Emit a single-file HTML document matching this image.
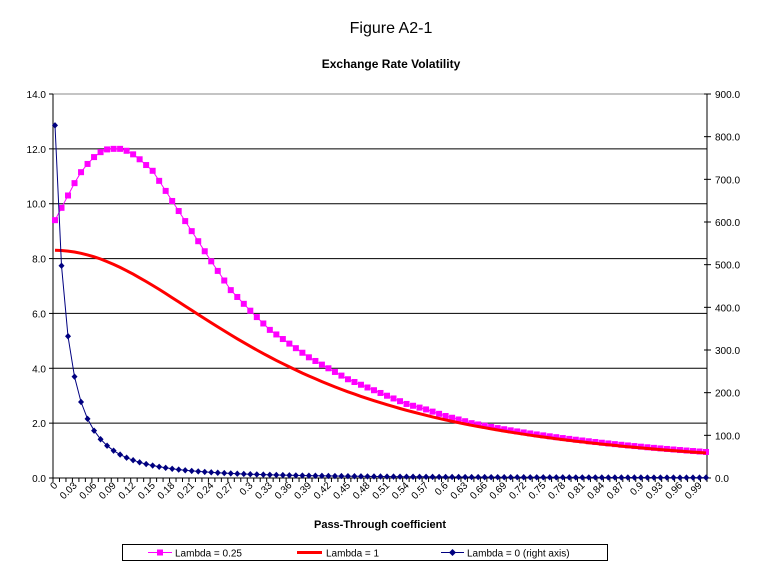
<!DOCTYPE html>
<html><head><meta charset="utf-8">
<style>
html,body{margin:0;padding:0;background:#fff;}
svg{display:block;font-family:"Liberation Sans",Arial,sans-serif;}
</style></head>
<body>
<svg id="s" width="782" height="574" viewBox="0 0 782 574" xmlns="http://www.w3.org/2000/svg">
<text x="391" y="33" font-size="16" text-anchor="middle">Figure A2-1</text>
<text x="391" y="68" font-size="12" font-weight="bold" text-anchor="middle">Exchange Rate Volatility</text>
<text x="380" y="528" font-size="11" font-weight="bold" text-anchor="middle">Pass-Through coefficient</text>
<g id="g"></g>
<rect x="122.5" y="544.5" width="485" height="16" fill="#fff" stroke="#000" stroke-width="1"/>
<line x1="148" y1="552.5" x2="172" y2="552.5" stroke="#ff00ff" stroke-width="1"/>
<rect x="157" y="549.5" width="6" height="6" fill="#ff00ff"/>
<text x="175" y="556.5" font-size="10">Lambda = 0.25</text>
<line x1="297" y1="552.5" x2="322" y2="552.5" stroke="#ff0000" stroke-width="3"/>
<text x="326" y="556.5" font-size="10">Lambda = 1</text>
<line x1="441" y1="552.5" x2="464" y2="552.5" stroke="#000080" stroke-width="1"/>
<polygon points="452.5,549 456,552.5 452.5,556 449,552.5" fill="#000080"/>
<text x="467" y="556.5" font-size="10">Lambda = 0 (right axis)</text>
</svg>
<script>
var g=document.getElementById('g'),h='';
var L=53,R=707,T=94,B=478;
function yl(v){return B-(v/14)*(B-T);}
function yr(v){return B-(v/900)*(B-T);}
function px(i){return 55+i*6.51;}
for(var k=1;k<=7;k++){var y=yl(k*2);h+='<line x1="'+L+'" x2="'+R+'" y1="'+y+'" y2="'+y+'" stroke="'+(k==7?'#888':'#000')+'" stroke-width="1"/>';}
h+='<line x1="'+L+'" x2="'+L+'" y1="'+T+'" y2="'+B+'" stroke="#000"/>';
h+='<line x1="'+R+'" x2="'+R+'" y1="'+T+'" y2="'+B+'" stroke="#000"/>';
h+='<line x1="'+L+'" x2="'+R+'" y1="'+B+'" y2="'+B+'" stroke="#000"/>';
for(var k=0;k<=7;k++){var y=yl(k*2);h+='<line x1="'+(L-4)+'" x2="'+L+'" y1="'+y+'" y2="'+y+'" stroke="#000"/>';
h+='<text x="'+(L-7)+'" y="'+(y+4)+'" font-size="10" text-anchor="end">'+(k*2).toFixed(1)+'</text>';}
for(var k=0;k<=9;k++){var y=yr(k*100);h+='<line x1="'+(R-3)+'" x2="'+(R+4)+'" y1="'+y+'" y2="'+y+'" stroke="#000"/>';
h+='<text x="'+(R+8)+'" y="'+(y+4)+'" font-size="10">'+(k*100).toFixed(1)+'</text>';}
var cw=(R-L)/101;
for(var i=0;i<=101;i++){var x=L+i*cw;h+='<line x1="'+x+'" x2="'+x+'" y1="'+B+'" y2="'+(B+4)+'" stroke="#000"/>';}
for(var i=0;i<=100;i+=3){var x=px(i)+3,y=B+8;var lab=String(+(i/100).toFixed(2));
h+='<text x="'+x+'" y="'+y+'" font-size="10" text-anchor="end" transform="rotate(-45 '+x+' '+y+')">'+lab+'</text>';}
function red(x){return 8.3/(1+8.1*x*x);}
var pk=[[0,9.4],[.01,9.85],[.02,10.3],[.03,10.75],[.04,11.15],[.05,11.45],[.06,11.7],[.07,11.88],[.08,11.98],[.09,12.0],[.10,12.0],[.11,11.93],[.12,11.8],[.13,11.62],[.15,11.2],[.18,10.1],[.21,9.0],[.24,7.9],[.27,6.85],[.3,6.1],[.33,5.4],[.36,4.9],[.39,4.4],[.42,4.0],[.45,3.6],[.48,3.3],[.51,3.0],[.54,2.7],[.57,2.5],[.6,2.26],[.63,2.07]];
function pink(x){if(x>.63)return red(x)*1.04;for(var j=0;j<pk.length-1;j++){if(x<=pk[j+1][0]+1e-9){var a=pk[j],b=pk[j+1];return a[1]+(b[1]-a[1])*(x-a[0])/(b[0]-a[0]);}}return 2;}
function nav(x){return 1/(0.00121+0.07*x+x*x);}
var pr='',pp='',pn='',mk='',md='';
for(var i=0;i<=100;i++){var x=i/100,X=px(i);
var yrr=yl(red(x)),yp=yl(pink(x)),yn=yr(nav(x));
pr+=(i?'L':'M')+X.toFixed(1)+' '+yrr.toFixed(1);
pp+=(i?'L':'M')+X.toFixed(1)+' '+yp.toFixed(1);
pn+=(i?'L':'M')+X.toFixed(1)+' '+yn.toFixed(1);
mk+='<rect x="'+(X-3)+'" y="'+(yp-3)+'" width="6" height="6" fill="#ff00ff"/>';
md+='<polygon points="'+X+','+(yn-3.2)+' '+(X+3)+','+yn+' '+X+','+(yn+3.2)+' '+(X-3)+','+yn+'" fill="#000080"/>';}
h+='<path d="'+pp+'" fill="none" stroke="#ff00ff" stroke-width="1"/>'+mk;
h+='<path d="'+pr+'" fill="none" stroke="#ff0000" stroke-width="3"/>';
h+='<path d="'+pn+'" fill="none" stroke="#000080" stroke-width="1"/>'+md;
g.innerHTML=h;
</script>
</body></html>
